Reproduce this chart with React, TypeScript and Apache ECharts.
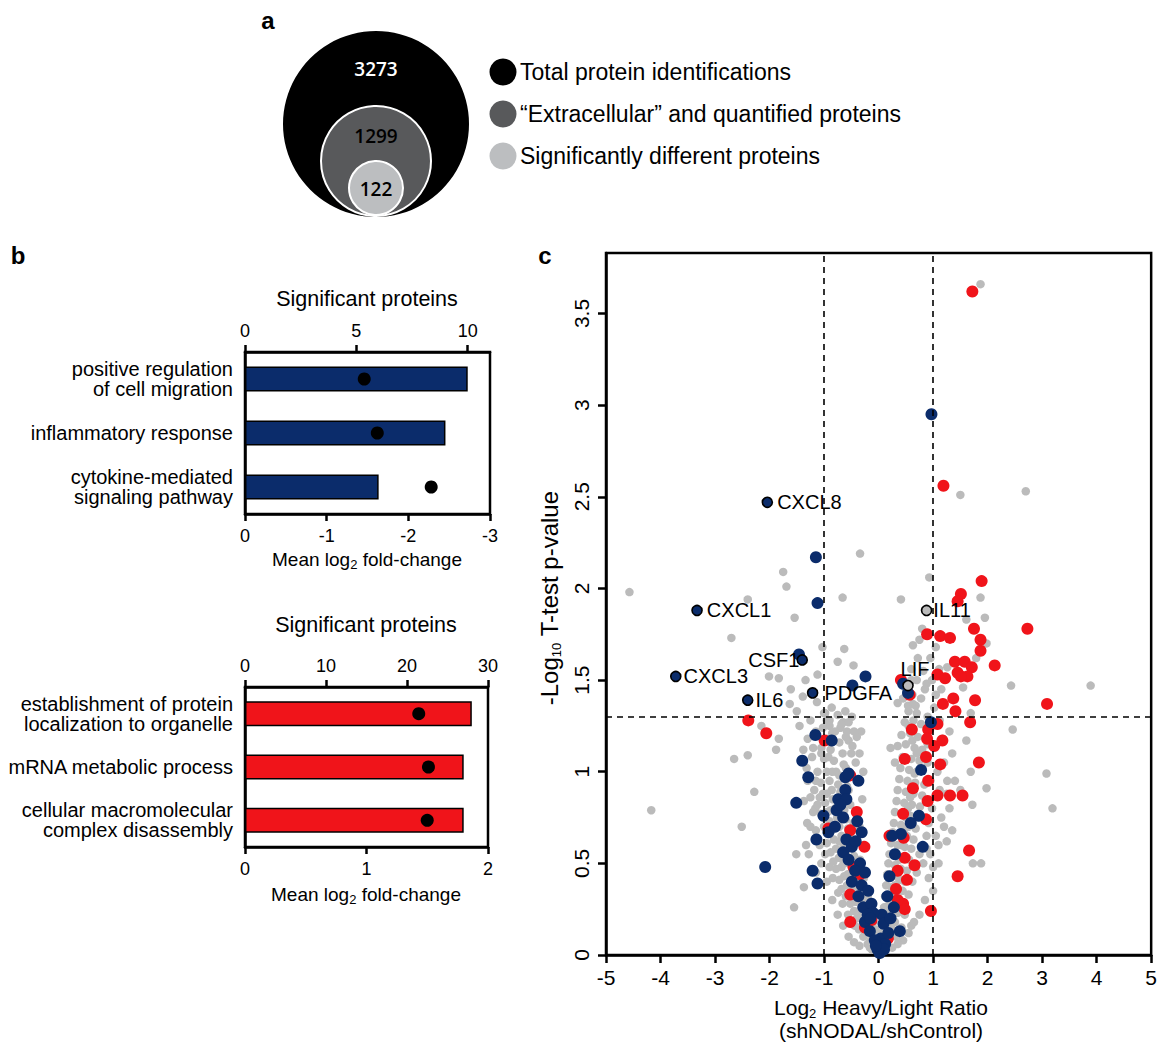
import React, { useEffect, useRef } from 'react';
import * as echarts from 'echarts';

// ---------- Panel a (nested sets) ----------
const vennLabels = ['Total protein identifications', '\u201CExtracellular\u201D and quantified proteins', 'Significantly different proteins'];
const vennCounts = [3273, 1299, 122];
const vennColors = ['#000000', '#58595b', '#bcbec0'];

// ---------- Panel b (GO terms) ----------
const downTerms = ['positive regulation\nof cell migration', 'inflammatory response', 'cytokine-mediated\nsignaling pathway'];
const downCounts = [10, 9, 6];
const downMeanFC = [-1.46, -1.62, -2.28];
const upTerms = ['establishment of protein\nlocalization to organelle', 'mRNA metabolic process', 'cellular macromolecular\ncomplex disassembly'];
const upCounts = [28, 27, 27];
const upMeanFC = [1.43, 1.51, 1.5];

// ---------- Panel c (volcano) ----------
const grayPoints: number[][] = [
  [-4.57, 1.98], [-4.17, 0.79], [-2.65, 1.07], [-2.4, 1.09], [-2.28, 0.89], [-2.51, 0.7], [-1.88, 1.12], [-1.55, 0.26],
  [-1.51, 0.55], [-1.37, 0.37], [-2.4, 1.94], [-1.75, 2.09], [-1.69, 2.01], [-0.66, 1.95], [-1.54, 1.84], [-2.7, 1.73],
  [-1.03, 1.68], [-0.63, 1.67], [-0.75, 1.6], [-0.46, 1.58], [-2.01, 1.52], [-1.83, 1.51], [-1.34, 1.5], [-1.12, 1.53],
  [-1.61, 1.45], [-1.63, 1.37], [-1.39, 1.41], [-1.13, 1.38], [-0.86, 1.35], [-0.61, 1.33], [-0.49, 1.3], [-2.15, 1.25],
  [-1.83, 1.18], [-0.34, 2.19], [0.93, 2.06], [1.87, 3.66], [1.5, 2.51], [2.7, 2.53], [0.41, 1.94], [1.87, 1.95],
  [1.61, 1.83], [1.95, 1.84], [0.8, 1.78], [0.75, 1.72], [0.63, 1.69], [1.98, 1.7], [1.79, 1.62], [1.26, 1.57],
  [1.11, 1.56], [0.6, 1.56], [0.88, 1.48], [2.43, 1.47], [3.89, 1.47], [1.55, 1.46], [0.35, 1.375], [0.54, 1.36],
  [0.63, 1.37], [1.69, 1.32], [2.46, 1.23], [-0.32, 1.22], [1.61, 1.17], [3.08, 0.99], [3.19, 0.8], [1.26, 0.95],
  [1.69, 1.0], [1.98, 0.91], [1.72, 0.82], [1.73, 0.5], [1.88, 0.5], [0.6, 0.16], [0.22, 1.13], [-1.37, 0.84],
  [-1.16, 0.8], [-1.31, 0.72], [-1.33, 0.6], [-1.2, 1.13], [-1.05, 1.1], [-1.0, 1.32], [-0.95, 1.28], [-0.9, 1.25],
  [-0.85, 1.21], [-0.7, 1.24], [-0.65, 1.27], [-0.58, 1.22], [-0.55, 1.17], [-0.4, 1.19], [-0.48, 1.14],
  // left arm
  [-0.02, 0.02], [-0.08, 0.05], [-0.12, 0.03], [-0.05, 0.09], [-0.15, 0.08], [-0.2, 0.06], [-0.1, 0.13], [-0.22, 0.12],
  [-0.28, 0.1], [-0.18, 0.17], [-0.3, 0.16], [-0.36, 0.14], [-0.14, 0.2], [-0.25, 0.22], [-0.4, 0.2], [-0.33, 0.25],
  [-0.45, 0.24], [-0.2, 0.27], [-0.3, 0.3], [-0.42, 0.29], [-0.52, 0.28], [-0.25, 0.33], [-0.38, 0.35], [-0.5, 0.34],
  [-0.6, 0.32], [-0.32, 0.39], [-0.45, 0.4], [-0.58, 0.38], [-0.68, 0.36], [-0.36, 0.44], [-0.5, 0.45], [-0.63, 0.43],
  [-0.72, 0.41], [-0.4, 0.49], [-0.55, 0.5], [-0.68, 0.48], [-0.78, 0.47], [-0.45, 0.54], [-0.6, 0.55], [-0.73, 0.53],
  [-0.83, 0.51], [-0.48, 0.59], [-0.64, 0.6], [-0.78, 0.58], [-0.88, 0.56], [-0.52, 0.64], [-0.68, 0.65], [-0.82, 0.63],
  [-0.95, 0.61], [-0.56, 0.69], [-0.72, 0.7], [-0.86, 0.68], [-1.0, 0.7], [-0.6, 0.74], [-0.76, 0.75], [-0.9, 0.73],
  [-1.06, 0.77], [-0.63, 0.79], [-0.8, 0.8], [-0.94, 0.78], [-1.12, 0.82], [-0.67, 0.84], [-0.84, 0.85], [-0.98, 0.83],
  [-0.7, 0.89], [-0.86, 0.9], [-1.02, 0.88], [-1.18, 0.9], [-0.74, 0.93], [-0.9, 0.95], [-1.06, 0.94], [-0.55, 0.9],
  [-0.78, 1.0], [-0.95, 1.0], [-1.12, 1.0], [-0.6, 1.02], [-0.82, 1.06], [-1.0, 1.07], [-0.66, 1.1], [-0.88, 1.12],
  [-1.05, 1.13], [-0.72, 1.16], [-0.95, 1.18], [-0.6, 1.19], [-0.8, 1.22], [-1.02, 1.24], [-0.68, 1.26], [-0.9, 1.28],
  [-0.75, 1.31], [-0.98, 1.32], [-0.55, 1.27], [-0.45, 1.22], [-0.38, 0.95], [-0.3, 0.85], [-0.42, 1.05], [-1.25, 0.7],
  [-1.3, 0.95], [-1.22, 1.08], [-1.28, 0.55], [-1.15, 0.45], [-1.05, 0.5], [-0.95, 0.4], [-0.85, 0.3], [-0.75, 0.22],
  [-0.65, 0.16], [-0.55, 0.1], [-0.45, 0.07], [-0.35, 0.05], [-0.22, 0.45], [-0.18, 0.35], [-0.28, 0.6], [-0.35, 0.7],
  [-0.15, 0.28], [-0.1, 0.18], [-0.2, 0.32], [-0.27, 0.42], [-0.34, 0.52], [-0.4, 0.62], [-0.46, 0.72], [-0.52, 0.82],
  [-0.58, 0.92], [-0.64, 1.04], [-0.5, 1.1], [-0.35, 1.1], [-0.28, 1.0], [-0.44, 0.16], [-0.56, 0.22], [-0.66, 0.28],
  [-0.74, 0.34], [-0.84, 0.42], [-0.9, 0.48], [-0.98, 0.55], [-1.08, 0.6], [-1.15, 0.68], [-1.2, 0.78], [-1.25, 0.86],
  [-1.32, 1.02], [-1.38, 1.12], [-1.45, 1.25], [-1.5, 1.33], [-1.25, 1.28], [-1.15, 1.22], [-1.3, 1.18], [-0.72, 0.98],
  [-0.85, 1.0], [-0.92, 1.08], [-1.15, 0.95], [-1.08, 0.86], [-0.95, 0.88], [-0.88, 0.79], [-0.72, 0.62], [-0.64, 0.5],
  [-0.57, 0.44], [-0.48, 0.36], [-0.4, 0.3], [-0.32, 0.22], [-0.24, 0.16], [-0.06, 0.14], [-0.16, 0.04],
  // right arm
  [0.02, 0.02], [0.08, 0.04], [0.05, 0.08], [0.12, 0.07], [0.15, 0.11], [0.1, 0.14], [0.2, 0.1], [0.18, 0.16],
  [0.25, 0.14], [0.08, 0.19], [0.14, 0.22], [0.22, 0.2], [0.3, 0.18], [0.1, 0.26], [0.18, 0.27], [0.27, 0.25],
  [0.35, 0.23], [0.12, 0.32], [0.21, 0.33], [0.3, 0.31], [0.4, 0.29], [0.14, 0.38], [0.24, 0.37], [0.34, 0.36],
  [0.44, 0.35], [0.16, 0.44], [0.27, 0.43], [0.38, 0.41], [0.48, 0.4], [0.18, 0.5], [0.3, 0.49], [0.41, 0.47],
  [0.52, 0.46], [0.2, 0.55], [0.33, 0.55], [0.45, 0.53], [0.56, 0.52], [0.23, 0.61], [0.35, 0.6], [0.48, 0.59],
  [0.6, 0.58], [0.26, 0.67], [0.38, 0.66], [0.52, 0.65], [0.64, 0.63], [0.28, 0.72], [0.41, 0.71], [0.55, 0.7],
  [0.68, 0.69], [0.3, 0.78], [0.44, 0.77], [0.58, 0.76], [0.72, 0.75], [0.33, 0.84], [0.47, 0.83], [0.61, 0.82],
  [0.76, 0.81], [0.35, 0.9], [0.5, 0.89], [0.64, 0.88], [0.8, 0.87], [0.38, 0.96], [0.53, 0.95], [0.67, 0.94],
  [0.84, 0.93], [0.4, 1.02], [0.56, 1.01], [0.7, 1.0], [0.3, 1.05], [0.44, 1.08], [0.6, 1.07], [0.75, 1.06],
  [0.35, 1.14], [0.5, 1.15], [0.66, 1.13], [0.8, 1.12], [0.42, 1.2], [0.58, 1.21], [0.72, 1.19], [0.48, 1.27],
  [0.64, 1.28], [0.78, 1.26], [0.55, 1.33], [0.7, 1.32], [0.9, 1.3], [0.45, 1.4], [0.62, 1.42], [0.78, 1.4],
  [0.7, 1.5], [0.82, 1.55], [0.72, 1.62], [0.95, 1.62], [1.05, 1.68], [1.02, 1.35], [1.12, 1.28], [1.08, 1.0],
  [1.2, 1.05], [1.15, 0.75], [1.3, 0.8], [1.05, 0.65], [1.25, 0.62], [0.95, 0.55], [1.1, 0.5], [0.92, 0.42],
  [1.0, 0.35], [0.85, 0.3], [0.75, 0.22], [0.65, 0.18], [0.55, 0.12], [0.45, 0.08], [0.35, 0.06], [0.25, 0.04],
  [1.4, 0.95], [1.35, 1.1], [1.5, 0.9], [0.9, 1.15], [0.98, 0.8], [0.88, 0.65], [0.82, 0.5],
  [0.06, 0.12], [0.14, 0.17], [0.2, 0.24], [0.25, 0.3], [0.3, 0.38], [0.35, 0.44], [0.38, 0.52], [0.42, 0.6],
  [0.46, 0.68], [0.5, 0.75], [0.54, 0.8], [0.58, 0.86], [0.62, 0.92], [0.66, 0.99], [0.7, 1.1], [0.62, 1.17],
  [0.55, 1.25], [0.68, 1.36], [0.85, 1.45], [0.6, 1.5], [0.5, 1.45], [0.9, 1.05], [0.95, 0.95], [0.92, 0.72],
  [0.88, 0.58], [0.75, 0.55], [0.7, 0.45], [0.62, 0.4], [0.55, 0.33], [0.48, 0.22], [0.42, 0.15], [0.32, 0.1],
  [1.12, 0.9], [1.25, 0.88], [1.18, 1.18], [1.3, 1.22], [1.1, 0.6], [1.0, 0.48], [1.2, 0.7], [1.35, 0.68],
  [1.05, 1.42], [1.15, 1.45], [0.98, 1.5],
];

const redPoints: number[][] = [
  [1.72, 3.62], [1.19, 2.56], [1.89, 2.04], [1.51, 1.97], [1.45, 1.93], [2.73, 1.78], [1.75, 1.78], [0.89, 1.75],
  [1.13, 1.74], [1.31, 1.73], [1.87, 1.72], [1.87, 1.66], [1.4, 1.6], [1.58, 1.6], [1.71, 1.57], [2.13, 1.58],
  [1.45, 1.54], [1.63, 1.52], [1.51, 1.52], [1.08, 1.53], [1.22, 1.51], [0.41, 1.5], [0.57, 1.42], [1.37, 1.4],
  [1.77, 1.39], [1.18, 1.37], [3.09, 1.37], [1.41, 1.33], [1.68, 1.27], [1.08, 1.26], [0.61, 1.23], [0.91, 1.23],
  [0.89, 1.18], [1.17, 1.17], [-2.39, 1.28], [-2.06, 1.21], [-0.99, 1.17], [0.48, 1.07], [0.87, 1.08], [1.02, 1.14],
  [1.13, 1.04], [1.84, 1.05], [0.91, 0.95], [0.63, 0.91], [1.08, 0.87], [1.31, 0.87], [1.54, 0.87], [0.9, 0.84],
  [0.87, 0.74], [0.45, 0.77], [1.66, 0.57], [0.48, 0.53], [0.66, 0.49], [1.45, 0.43], [0.35, 0.46], [0.52, 0.41],
  [0.32, 0.36], [0.45, 0.28], [0.48, 0.25], [0.35, 0.3], [0.96, 0.24], [0.2, 0.65], [0.46, 0.64], [-0.52, 0.98],
  [-0.4, 0.78], [-0.92, 0.69], [-0.52, 0.68], [-0.26, 0.59], [-0.46, 0.48], [-0.52, 0.33], [-0.52, 0.18], [-0.13, 0.19],
  [0.17, 0.09], [-0.34, 0.44], [-0.25, 0.15],
];

const bluePoints: number[][] = [
  [0.97, 2.95], [-1.15, 2.17], [-1.12, 1.92], [-1.46, 1.64], [-0.24, 1.52], [-0.48, 1.47], [0.45, 1.48], [0.54, 1.43],
  [0.96, 1.27], [-1.16, 1.2], [-0.86, 1.17], [-1.4, 1.06], [-1.29, 0.97], [-1.51, 0.83], [-1.14, 0.63], [-2.08, 0.48],
  [-1.21, 0.46], [-1.12, 0.39], [-1.01, 0.76], [-0.92, 0.67], [0.78, 1.01], [0.74, 0.76], [0.59, 0.72], [0.41, 0.66],
  [0.25, 0.65], [0.81, 0.59], [0.2, 0.43], [0.16, 0.32], [0.28, 0.26], [0.39, 0.13], [0.06, 0.22], [0.09, 0.17],
  [0.04, 0.09], [0.12, 0.06], [-0.74, 0.85], [-0.61, 0.97], [-0.55, 0.99], [-0.37, 0.95], [-0.61, 0.9], [-0.59, 0.85],
  [-0.77, 0.79], [-0.65, 0.75], [-0.39, 0.73], [-0.31, 0.67], [-0.59, 0.63], [-0.49, 0.59], [-0.65, 0.56], [-0.55, 0.52],
  [-0.34, 0.5], [-0.43, 0.46], [-0.25, 0.45], [-0.49, 0.4], [-0.31, 0.38], [-0.19, 0.35], [-0.37, 0.32], [-0.28, 0.26],
  [-0.13, 0.28], [-0.25, 0.18], [-0.1, 0.23], [-0.16, 0.13], [-0.07, 0.08], [-0.02, 0.03], [0.02, 0.01], [0.1, 0.03],
  [-0.05, 0.05], [-0.2, 0.22], [-0.15, 0.2], [-0.42, 0.62], [-0.8, 0.7], [-0.7, 0.82], [0.3, 0.55], [0.18, 0.12],
  [0.22, 0.2],
];

const geneNames = ['CXCL8', 'CXCL1', 'CXCL3', 'IL6', 'CSF1', 'PDGFA', 'IL11', 'LIF'];
const geneX = [-2.04, -3.33, -3.72, -2.4, -1.4, -1.21, 0.88, 0.54];
const geneY = [2.47, 1.88, 1.52, 1.39, 1.61, 1.43, 1.88, 1.47];
const geneSignificant = [true, true, true, true, true, true, false, false];

const xTicksC = [-5, -4, -3, -2, -1, 0, 1, 2, 3, 4, 5];
const yTicksC = [0, 0.5, 1, 1.5, 2, 2.5, 3, 3.5];

const NAVY = '#0b2c6b';
const RED = '#f0141a';
const GRAY = '#bbbbbb';
const FONT = '"Liberation Sans", Arial, Helvetica, sans-serif';

const axisLineStyle = { color: '#000', width: 2.5 };

function valueAxis(extra: any) {
  return {
    type: 'value',
    axisLine: { show: true, onZero: false, lineStyle: axisLineStyle },
    axisTick: { show: true, length: 7, lineStyle: axisLineStyle },
    splitLine: { show: false },
    axisLabel: { color: '#000', fontFamily: FONT, fontSize: 18 },
    ...extra,
  };
}

const labelPos: Record<string, any> = {
  CXCL8: { position: 'right', distance: 4 },
  CXCL1: { position: 'right', distance: 4 },
  CXCL3: { position: 'right', distance: 2 },
  IL6: { position: 'right', distance: 2 },
  CSF1: { position: 'left', distance: -3 },
  PDGFA: { position: 'right', distance: 6 },
  IL11: { position: 'right', distance: 1 },
  LIF: { position: 'top', distance: 1, offset: [7, 0] },
};

function buildOption() {
  const sub = { fontSize: 13, fontFamily: FONT, verticalAlign: 'bottom', lineHeight: 13 };
  const graphics: any[] = [];
  // panel letters
  [['a', 268, 20], ['b', 18, 255], ['c', 545, 255]].forEach(([t, x, y]) => {
    graphics.push({ type: 'text', x, y, style: { text: t, fontSize: 24, fontWeight: 'bold', fontFamily: FONT, fill: '#000', align: 'center', verticalAlign: 'middle' } });
  });
  // venn circles
  const vennGeom = [
    { cx: 376, cy: 124, r: 93, ty: 69 },
    { cx: 376, cy: 161, r: 55, ty: 136 },
    { cx: 376, cy: 188, r: 27, ty: 189 },
  ];
  vennGeom.forEach((g, i) => {
    graphics.push({ type: 'circle', shape: { cx: g.cx, cy: g.cy, r: g.r }, style: { fill: vennColors[i], stroke: i === 0 ? 'none' : '#fff', lineWidth: 2 } });
  });
  vennGeom.forEach((g, i) => {
    graphics.push({ type: 'text', x: g.cx, y: g.ty, style: { text: String(vennCounts[i]), fontSize: 19, fontWeight: 600, fontFamily: '"Open Sans", sans-serif', fill: i === 0 ? '#fff' : '#000', align: 'center', verticalAlign: 'middle' } });
  });
  // legend
  vennLabels.forEach((t, i) => {
    const cy = 72 + i * 42;
    graphics.push({ type: 'circle', shape: { cx: 503, cy, r: 13.5 }, style: { fill: vennColors[i] } });
    graphics.push({ type: 'text', x: 520, y: cy, style: { text: t, fontSize: 23, fontFamily: FONT, fill: '#000', align: 'left', verticalAlign: 'middle' } });
  });
  // titles / axis names
  const txt = (text: string, x: number, y: number, size: number, rot = 0) => ({
    type: 'text', x, y, rotation: rot,
    style: { text, fontSize: size, fontFamily: FONT, fill: '#000', align: 'center', verticalAlign: 'middle', lineHeight: size + 4, rich: { sub } },
  });
  graphics.push(txt('Significant proteins', 367, 299, 21.5));
  graphics.push(txt('Mean log{sub|2} fold-change', 367, 559, 19));
  graphics.push(txt('Significant proteins', 366, 625, 21.5));
  graphics.push(txt('Mean log{sub|2} fold-change', 366, 894, 19));
  graphics.push(txt('Log{sub|2} Heavy/Light Ratio', 881, 1007, 21));
  graphics.push(txt('(shNODAL/shControl)', 881, 1030, 21));
  graphics.push(txt('-Log{sub|10} T-test p-value', 549, 598, 24, Math.PI / 2));

  const catAxis = (gridIndex: number, data: string[]) => ({
    type: 'category', gridIndex, data, inverse: true,
    axisLine: { show: true, lineStyle: axisLineStyle },
    axisTick: { show: false },
    axisLabel: { color: '#000', fontFamily: FONT, fontSize: 20, lineHeight: 20, margin: 12 },
  });

  const labeledData = geneNames.map((n, i) => ({
    value: [geneX[i], geneY[i]],
    name: n,
    itemStyle: { color: geneSignificant[i] ? NAVY : GRAY },
    label: { show: true, ...labelPos[n] },
  }));

  return {
    animation: false,
    grid: [
      { left: 245, top: 352, width: 245, height: 162, show: true, borderColor: '#000', borderWidth: 2.5, backgroundColor: 'transparent' },
      { left: 245, top: 687, width: 243, height: 160, show: true, borderColor: '#000', borderWidth: 2.5, backgroundColor: 'transparent' },
      { left: 606, top: 253, width: 550, height: 702, show: true, borderColor: '#000', borderWidth: 2.5, backgroundColor: 'transparent' },
    ],
    xAxis: [
      valueAxis({ gridIndex: 0, position: 'top', min: 0, max: 11, axisTick: { show: true, length: 7, lineStyle: axisLineStyle, customValues: [0, 5, 10] }, axisLabel: { color: '#000', fontFamily: FONT, fontSize: 18, margin: 12, customValues: [0, 5, 10] } }),
      valueAxis({ gridIndex: 0, position: 'bottom', min: -3, max: 0, interval: 1, inverse: true, axisLabel: { color: '#000', fontFamily: FONT, fontSize: 18, margin: 13 } }),
      valueAxis({ gridIndex: 1, position: 'top', min: 0, max: 30, interval: 10, axisLabel: { color: '#000', fontFamily: FONT, fontSize: 18, margin: 12 } }),
      valueAxis({ gridIndex: 1, position: 'bottom', min: 0, max: 2, interval: 1, axisLabel: { color: '#000', fontFamily: FONT, fontSize: 18, margin: 13 } }),
      valueAxis({ gridIndex: 2, position: 'bottom', min: -5, max: 5, interval: 1, axisTick: { show: true, length: 8, lineStyle: axisLineStyle, customValues: xTicksC }, axisLabel: { color: '#000', fontFamily: FONT, fontSize: 21, margin: 12, customValues: xTicksC } }),
    ],
    yAxis: [
      catAxis(0, downTerms),
      catAxis(1, upTerms),
      valueAxis({ gridIndex: 2, min: 0, max: 3.83, axisTick: { show: true, length: 8, lineStyle: axisLineStyle, customValues: yTicksC }, axisLabel: { color: '#000', fontFamily: FONT, fontSize: 21, margin: 14, rotate: 90, customValues: yTicksC } }),
    ],
    series: [
      { type: 'bar', xAxisIndex: 0, yAxisIndex: 0, data: downCounts, barWidth: 25, itemStyle: { color: NAVY, borderColor: '#000', borderWidth: 1.5 }, silent: true },
      { type: 'scatter', xAxisIndex: 1, yAxisIndex: 0, data: downMeanFC.map((v, i) => [v, i]), symbolSize: 13, itemStyle: { color: '#000', opacity: 1 }, z: 5 },
      { type: 'bar', xAxisIndex: 2, yAxisIndex: 1, data: upCounts, barWidth: 25, itemStyle: { color: RED, borderColor: '#000', borderWidth: 1.5 }, silent: true },
      { type: 'scatter', xAxisIndex: 3, yAxisIndex: 1, data: upMeanFC.map((v, i) => [v, i]), symbolSize: 13, itemStyle: { color: '#000', opacity: 1 }, z: 5 },
      {
        type: 'scatter', xAxisIndex: 4, yAxisIndex: 2, data: grayPoints, symbolSize: 8.5, itemStyle: { color: GRAY, opacity: 1 }, z: 2,
        markLine: {
          silent: true, symbol: 'none', label: { show: false },
          lineStyle: { type: [6, 5], color: '#000', width: 1.6 },
          data: [{ xAxis: -1 }, { xAxis: 1 }, { yAxis: 1.301 }],
        },
      },
      { type: 'scatter', xAxisIndex: 4, yAxisIndex: 2, data: redPoints, symbolSize: 12, itemStyle: { color: RED, opacity: 1 }, z: 3 },
      { type: 'scatter', xAxisIndex: 4, yAxisIndex: 2, data: bluePoints, symbolSize: 12, itemStyle: { color: NAVY, opacity: 1 }, z: 4 },
      {
        type: 'scatter', xAxisIndex: 4, yAxisIndex: 2, data: labeledData, symbolSize: 10, z: 6,
        itemStyle: { borderColor: '#000', borderWidth: 1.6, opacity: 1 },
        label: { show: true, formatter: '{b}', color: '#000', fontFamily: FONT, fontSize: 20 },
      },
    ],
    graphic: graphics,
  };
}

export default function App() {
  const ref = useRef<HTMLDivElement>(null);
  useEffect(() => {
    document.body.style.margin = '0';
    const chart = echarts.init(ref.current as HTMLDivElement, null, { renderer: 'svg', width: 1160, height: 1045 });
    chart.setOption(buildOption() as any);
    return () => chart.dispose();
  }, []);
  return <div ref={ref} style={{ width: 1160, height: 1045 }} />;
}
